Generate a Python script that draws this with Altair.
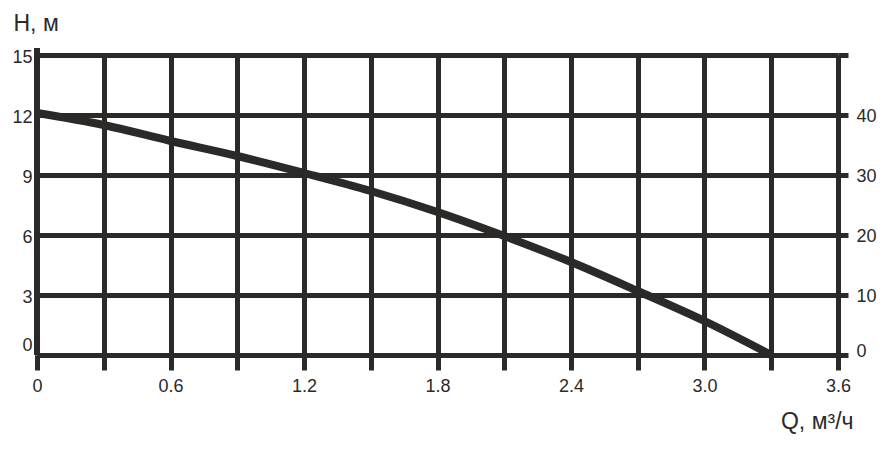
import altair as alt
import pandas as pd

# Flow Q (m³/h) and head H (m)
q_values = [0.0, 0.3, 0.6, 0.9, 1.2, 1.5, 1.8, 2.1, 2.4, 2.7, 3.0, 3.3]
h_values = [12.1, 11.5, 10.7, 9.95, 9.1, 8.2, 7.15, 5.95, 4.65, 3.2, 1.7, 0.0]

x_ticks = [0.0, 0.3, 0.6, 0.9, 1.2, 1.5, 1.8, 2.1, 2.4, 2.7, 3.0, 3.3, 3.6]
y_left_ticks = [0, 3, 6, 9, 12, 15]
y_right_ticks = [0, 10, 20, 30, 40, 50]

df = pd.DataFrame({"Q": q_values, "H": h_values})

INK = "#2b2a29"
FONT = "Liberation Sans"
W, H = 801, 300

x_enc = alt.X(
    "Q:Q",
    scale=alt.Scale(domain=[0, 3.6], nice=False, zero=False),
    axis=alt.Axis(
        values=x_ticks,
        grid=True, gridColor=INK, gridWidth=5, gridOpacity=1,
        ticks=True, tickSize=15, tickWidth=5, tickColor=INK,
        domain=False,
        labelExpr="round(datum.value*10) % 6 == 0 ? (datum.value == 0 ? '0' : format(datum.value, '.1f')) : ''",
        labelFont=FONT, labelFontSize=18, labelColor=INK, labelPadding=7,
        labelFlush=False,
        title="Q, м³/ч", titleFont=FONT, titleFontSize=23, titleFontWeight="normal",
        titleColor=INK, titleAlign="right", titleAnchor="start",
        titleX=816, titleY=73, titleBaseline="alphabetic",
    ),
)

curve = alt.Chart(df).mark_line(
    color=INK, strokeWidth=8, interpolate="monotone", strokeCap="butt"
).encode(
    x=x_enc,
    y=alt.Y(
        "H:Q",
        scale=alt.Scale(domain=[0, 15], nice=False),
        axis=alt.Axis(
            values=y_left_ticks,
            grid=True, gridColor=INK, gridWidth=5, gridOpacity=1,
            ticks=False, domain=False,
            labelFont=FONT, labelFontSize=18, labelColor=INK, labelPadding=5,
            labelOffset={"condition": {"test": "datum.value == 0", "value": -10}, "value": 2},
            title="H, м", titleFont=FONT, titleFontSize=23, titleFontWeight="normal",
            titleColor=INK, titleAngle=0, titleAlign="left", titleAnchor="start",
            titleX=-24, titleY=-25, titleBaseline="alphabetic",
        ),
    ),
)

right = alt.Chart(df).transform_calculate(
    H2="datum.H * 50 / 15"
).mark_line(opacity=0).encode(
    x=alt.X("Q:Q", scale=alt.Scale(domain=[0, 3.6], nice=False, zero=False)),
    y=alt.Y(
        "H2:Q",
        scale=alt.Scale(domain=[0, 50], nice=False),
        axis=alt.Axis(
            orient="right", values=y_right_ticks,
            grid=False, domain=False,
            ticks=True, tickSize=10, tickWidth=5, tickColor=INK,
            labelExpr="datum.value == 50 ? '' : datum.label",
            labelFont=FONT, labelFontSize=18, labelColor=INK, labelPadding=8,
            labelOffset={"condition": {"test": "datum.value == 0", "value": -4}, "value": 1},
            title=None,
        ),
    ),
)

left_edge = alt.Chart(df).mark_rule(color=INK, strokeWidth=5).encode(
    x=alt.value(0), y=alt.value(-7), y2=alt.value(H)
)

chart = alt.layer(curve, right, left_edge).resolve_scale(y="independent").properties(
    width=W, height=H,
    autosize=alt.AutoSizeParams(type="none"),
    padding={"left": 29, "top": 47, "right": 40, "bottom": 80},
).configure_view(strokeWidth=0).configure(background="white")

chart.save("out.html", embed_options={"renderer": "svg", "actions": False})
